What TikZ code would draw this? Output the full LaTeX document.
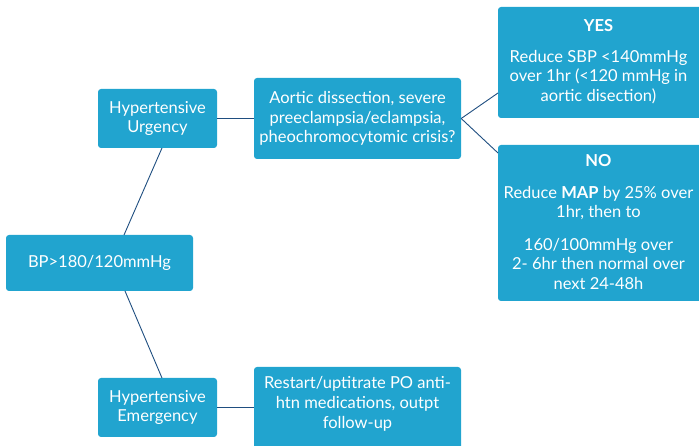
\documentclass[tikz,border=0pt]{standalone}
\usepackage{fontspec}
\setmainfont{Lato}
\definecolor{boxblue}{HTML}{21A4CF}
\definecolor{linkblue}{HTML}{1F4E80}
\begin{document}
\begin{tikzpicture}[x=1pt,y=1pt,
  box/.style={draw=none,fill=boxblue,rounded corners=3pt,text=white,align=center,
    inner sep=0pt,font=\fontsize{16.5}{19.5}\selectfont},
  btext/.style={text=white,align=center,inner sep=0pt,font=\fontsize{16.5}{19.5}\selectfont},
  link/.style={draw=linkblue,line width=0.9pt}]
\useasboundingbox (0,0) rectangle (699,446);
\clip (0,0) rectangle (699,446);
% y_tikz = 446 - y_px
\node[box,minimum width=187,minimum height=56] (bp) at (99.5,183) {BP>180/120mmHg};
\node[box,minimum width=119,minimum height=59] (urg) at (157.5,327.5) {Hypertensive\\Urgency};
\node[box,minimum width=119,minimum height=59] (emg) at (157.5,38.5) {Hypertensive\\Emergency};
\node[box,minimum width=207,minimum height=81] (aor) at (357.5,327.5) {Aortic dissection, severe\\preeclampsia/eclampsia,\\pheochromocytomic crisis?};
\node[box,minimum width=210,minimum height=111] (yes) at (603,383.5) {};
\node[btext] (yest) at (598.5,384.5)
  {\textbf{YES}\\[11pt]Reduce SBP <140mmHg\\over 1hr (<120 mmHg in\\aortic disection)};
\node[box,minimum width=210,minimum height=156] (no) at (603,223) {};
\node[btext] (not) at (598.5,224)
  {\textbf{NO}\\[12pt]Reduce \textbf{MAP} by 25\% over\\1hr, then to\\[13pt]160/100mmHg over\\2- 6hr then normal over\\next 24-48h};
\node[box,minimum width=207,minimum height=92] (rst) at (357.5,33) {};
\node[btext,font=\fontsize{16.5}{20}\selectfont,anchor=north] (rstt) at (357.5,70)
  {Restart/uptitrate PO anti-\\htn medications, outpt\\follow-up};
\coordinate (bpt) at (124,211);
\coordinate (bpb) at (125,155);
\coordinate (urgb) at (162,298);
\coordinate (emgt) at (162,68);
\draw[link] (bpt) -- (urgb);
\draw[link] (bpb) -- (emgt);
\draw[link] (urg.east) -- (aor.west);
\draw[link] (emg.east) -- (emg.east -| rst.west);
\coordinate (yesl) at (498,353);
\coordinate (nol) at (498,293);
\draw[link] (aor.east) -- (yesl);
\draw[link] (aor.east) -- (nol);
\end{tikzpicture}
\end{document}
